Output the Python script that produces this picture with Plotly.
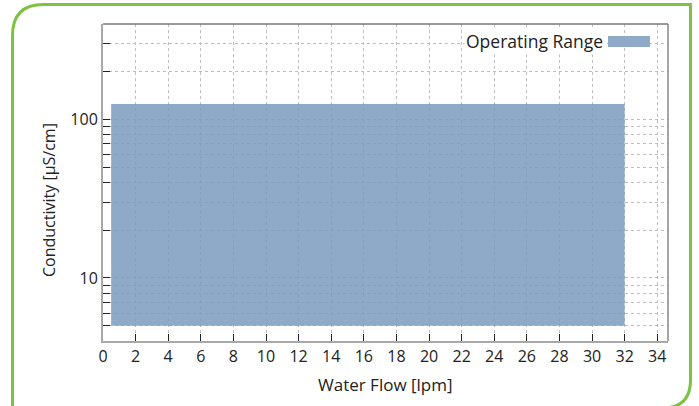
import math
import plotly.graph_objects as go

# ---- data ----
flow_range = [0.5, 32]          # Water Flow [lpm]
cond_range = [5, 125]           # Conductivity [µS/cm]
series_name = "Operating Range"
x_ticks = list(range(0, 35, 2))
y_major = [10, 100]
y_minor = [5, 6, 7, 8, 9, 20, 30, 40, 50, 60, 70, 80, 90, 200, 300]

W, H = 699, 406
L, R, T, B = 103, 668, 24, 341


def px(x):
    return (x - L) / (R - L)


def py(y):
    return (B - y) / (B - T)


fill_col = "rgba(123,155,190,0.85)"
swatch_col = "#8faac8"

fig = go.Figure()
fig.add_trace(go.Scatter(
    x=[flow_range[0], flow_range[1], flow_range[1], flow_range[0], flow_range[0]],
    y=[cond_range[0], cond_range[0], cond_range[1], cond_range[1], cond_range[0]],
    mode="lines", fill="toself", fillcolor=fill_col,
    line=dict(width=0), name=series_name, showlegend=False, hoverinfo="skip",
))

font_family = "Open Sans, Noto Sans, sans-serif"
grid = dict(gridcolor="#bdbdbd", griddash="dot", gridwidth=1)

fig.update_xaxes(
    range=[0, 34.66], tickvals=x_ticks, ticktext=[str(v) for v in x_ticks],
    ticks="inside", ticklen=7, tickcolor="#222", tickwidth=1,
    showline=True, linecolor="#a8a8a8", linewidth=2, zeroline=False,
    showgrid=True, **grid,
    tickfont=dict(family=font_family, size=16, color="#222"),
)
fig.update_yaxes(
    type="log", range=[math.log10(4), math.log10(400)],
    tickvals=y_major, ticktext=[str(v) for v in y_major],
    ticks="inside", ticklen=7, tickcolor="#222", tickwidth=1,
    showline=True, linecolor="#a8a8a8", linewidth=2, zeroline=False,
    showgrid=True, **grid,
    minor=dict(tickvals=y_minor, ticks="inside", ticklen=7, tickcolor="#222",
               showgrid=True, gridcolor="#bdbdbd", griddash="dot", gridwidth=1),
    tickfont=dict(family=font_family, size=16, color="#222"),
)

shapes = []
# top and right frame of plot
shapes.append(dict(type="line", xref="paper", yref="paper", x0=0, x1=1, y0=1, y1=1,
                   line=dict(color="#777", width=1.3)))
shapes.append(dict(type="line", xref="paper", yref="paper", x0=1, x1=1, y0=0, y1=1,
                   line=dict(color="#777", width=1.3)))
# legend swatch
shapes.append(dict(type="rect", xref="paper", yref="paper",
                   x0=px(608), x1=px(650), y0=py(47), y1=py(36),
                   fillcolor=swatch_col, line=dict(width=0)))
# green frame
gl, gt, gr, gb = 12.5, 4.5, 690.5, 408
path_pts = (
    f"M {px(gl)},{py(450)} L {px(gl)},{py(gt+31)} "
    f"Q {px(gl)},{py(gt)} {px(gl+31)},{py(gt)} "
    f"L {px(gr)},{py(gt)} L {px(gr)},{py(gb-28)} "
    f"Q {px(gr)},{py(gb)} {px(gr-28)},{py(gb)}"
)
shapes.append(dict(type="path", xref="paper", yref="paper", path=path_pts,
                   line=dict(color="#7dc242", width=3)))

annotations = [
    dict(text=series_name, xref="paper", yref="paper", x=px(605), y=py(41),
         xanchor="right", yanchor="middle", showarrow=False, bgcolor="white",
         font=dict(family=font_family, size=17.5, color="#222")),
    dict(text="Conductivity [µS/cm]", xref="paper", yref="paper", x=px(49), y=py(200),
         xanchor="center", yanchor="middle", textangle=-90, showarrow=False,
         font=dict(family=font_family, size=16, color="#222")),
    dict(text="Water Flow [lpm]", xref="paper", yref="paper", x=px(385), y=py(384),
         xanchor="center", yanchor="middle", showarrow=False,
         font=dict(family=font_family, size=17, color="#222")),
]

fig.update_layout(
    width=W, height=H,
    margin=dict(l=L, r=W - R, t=T, b=H - B, pad=0),
    paper_bgcolor="white", plot_bgcolor="white",
    shapes=shapes, annotations=annotations, showlegend=False,
    font=dict(family=font_family),
)

fig.write_html(
    "out.html",
    config={"displayModeBar": False},
    post_script="document.body.style.margin='0';document.body.style.overflow='hidden';",
)
